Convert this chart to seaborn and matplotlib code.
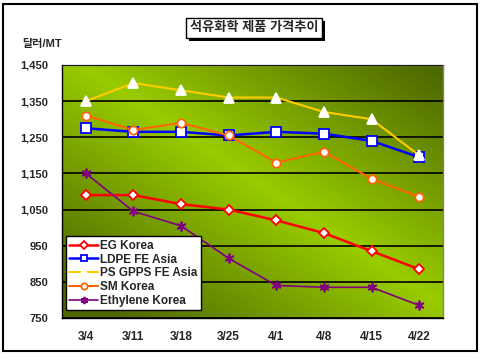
import seaborn as sns
import matplotlib.pyplot as plt
import matplotlib.patheffects as pe
from matplotlib.patches import Rectangle
from matplotlib.ticker import FixedLocator
import numpy as np
import pandas as pd

dates = ["3/4", "3/11", "3/18", "3/25", "4/1", "4/8", "4/15", "4/22"]
eg_korea = [1090, 1090, 1065, 1050, 1020, 985, 935, 885]
ldpe_fe_asia = [1275, 1265, 1265, 1255, 1265, 1260, 1240, 1195]
ps_gpps_fe_asia = [1350, 1400, 1380, 1360, 1360, 1320, 1300, 1200]
sm_korea = [1310, 1270, 1290, 1255, 1180, 1210, 1135, 1085]
ethylene_korea = [1150, 1045, 1005, 915, 840, 835, 835, 785]
y_ticks = [750, 850, 950, 1050, 1150, 1250, 1350, 1450]

series = [
    ("EG Korea", eg_korea, "#ff0000", "D", "#ff0000", 5.5, 1.8),
    ("LDPE FE Asia", ldpe_fe_asia, "#0000ff", "s", "#0000ff", 6.5, 1.8),
    ("PS GPPS FE Asia", ps_gpps_fe_asia, "#ffcc00", "^", "white", 7.5, 1.5),
    ("SM Korea", sm_korea, "#ff6600", "o", "#ff6600", 6, 1.5),
    ("Ethylene Korea", ethylene_korea, "#800080", (6, 2, 0), "#800080", 7, 1.2),
]

sns.set_theme(style="white")
plt.rcParams["font.family"] = ["Liberation Sans", "Noto Sans CJK KR"]
plt.rcParams["font.weight"] = "bold"

fig = plt.figure(figsize=(4.81, 3.6), dpi=100)
ax = fig.add_axes([62 / 481, 1 - 318 / 360, 381 / 481, 253 / 360])

# diagonal gradient background (bright along the diagonal, dark in corners)
u, v = np.meshgrid(np.linspace(0, 1, 200), np.linspace(1, 0, 200))
t = np.clip(np.abs(u + v - 1.05) * 1.1, 0, 1)[..., None]
bright = np.array([153, 204, 0]) / 255
dark = np.array([78, 104, 0]) / 255
grad = bright * (1 - t) + dark * t
ax.imshow(grad, extent=(-0.5, 7.5, 750, 1450), aspect="auto", zorder=0)

for label, vals, color, marker, edge, ms, lw in series:
    df = pd.DataFrame({"date": dates, "price": vals})
    sns.lineplot(data=df, x="date", y="price", ax=ax, color=color, lw=lw,
                 marker=marker, markersize=ms, markerfacecolor="white",
                 markeredgecolor=edge, markeredgewidth=1.3, label=label,
                 sort=False, zorder=3)

ax.set_xlim(-0.5, 7.5)
ax.set_ylim(750, 1450)
ax.set_yticks(y_ticks)
ax.set_yticklabels([f"{y:,}" for y in y_ticks])
ax.yaxis.grid(True, color="black", lw=1.2, zorder=1)
ax.set_axisbelow(False)
ax.set_xlabel("")
ax.set_ylabel("")
ax.tick_params(axis="y", length=0, pad=10, labelsize=8)
ax.tick_params(axis="x", which="major", length=0, pad=9, labelsize=8.5)
ax.xaxis.set_minor_locator(FixedLocator(np.arange(0.5, 7.5, 1)))
ax.tick_params(axis="x", which="minor", direction="in", length=3, width=1, color="black")
for side in ["left", "bottom"]:
    ax.spines[side].set_color("black")
    ax.spines[side].set_linewidth(1)
for side in ["top", "right"]:
    ax.spines[side].set_color("#808080")
    ax.spines[side].set_linewidth(1)
for t_ in ax.get_yticklabels() + ax.get_xticklabels():
    t_.set_fontweight("bold")

leg = ax.legend(loc="lower left", bbox_to_anchor=(0.01, 0.03), fancybox=False,
                edgecolor="black", framealpha=1, fontsize=8.5, handlelength=2.4,
                labelspacing=0.15, borderpad=0.3, handletextpad=0.2,
                borderaxespad=0, markerscale=0.75)
leg.get_frame().set_linewidth(1)
for txt in leg.get_texts():
    txt.set_fontweight("bold")

title = fig.text(254 / 481, 1 - 28 / 360, "석유화학 제품 가격추이", ha="center", va="center",
                 fontsize=9.5, fontweight="bold",
                 bbox=dict(boxstyle="square,pad=0.3", fc="white", ec="black", lw=1))
title.get_bbox_patch().set_path_effects([
    pe.SimplePatchShadow(offset=(2, -2), shadow_rgbFace="black", alpha=1),
    pe.Normal()])

fig.text(22 / 481, 1 - 44 / 360, "달러/MT", ha="left", va="center", fontsize=8,
         fontweight="bold")

fig.patches.append(Rectangle((3 / 481, 1 - 351 / 360), 474 / 481, 347 / 360,
                             transform=fig.transFigure, fill=False, ec="black",
                             lw=1.5))

fig.savefig("out.png", dpi=100)
